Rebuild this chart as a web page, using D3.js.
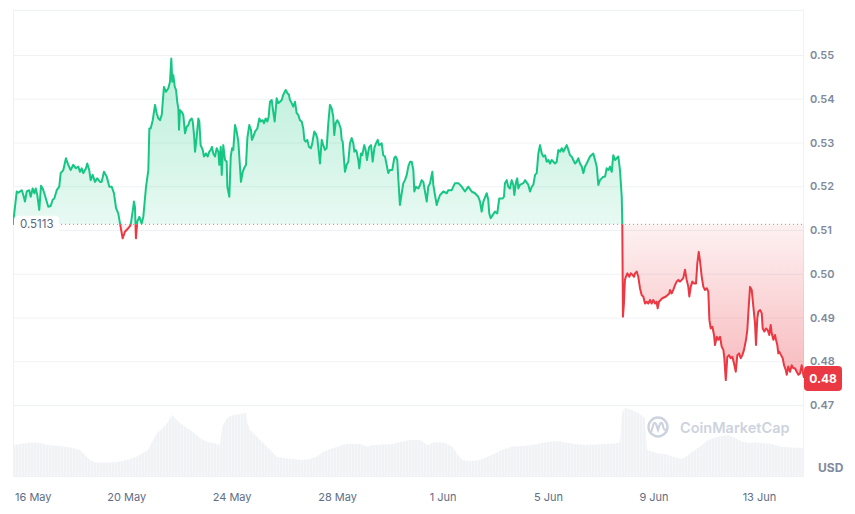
<!DOCTYPE html>
<html><head><meta charset="utf-8">
<script src="https://cdn.jsdelivr.net/npm/d3@7"></script>
<style>body{margin:0;background:#fff;} svg{display:block;font-family:Inter,"Noto Sans",sans-serif;}</style>
</head><body><svg id="chart" width="855" height="514"></svg>
<script>
// ---------- DATA ----------
const startTime = new Date(2024, 4, 15, 17, 0);   // first sample
const spanHours = 720;
const openPrice = 0.5113;
const lastPriceLabel = "0.48";
const priceTicks = [0.47, 0.48, 0.49, 0.50, 0.51, 0.52, 0.53, 0.54, 0.55];
const dateTicks = ["2024-05-16","2024-05-20","2024-05-24","2024-05-28","2024-06-01","2024-06-05","2024-06-09","2024-06-13"];
const dateLabels = ["16 May","20 May","24 May","28 May","1 Jun","5 Jun","9 Jun","13 Jun"];

// hours since startTime
const hours = [
0,3.4,4.8,7.9,9.4,10.9,12.5,14.8,16.1,17.9,
19.4,20.7,22.1,23.9,25.5,27.0,28.5,30.7,32.1,34.3,
36.1,37.6,39.8,42.1,43.4,45.8,48.2,50.3,52.5,54.9,
57.3,59.4,61.0,62.5,64.0,66.4,67.6,69.4,70.7,72.5,
74.6,76.7,79.2,80.7,82.8,85.3,87.7,89.8,91.9,93.8,
95.8,97.4,99.8,101.9,104.9,107.1,108.9,110.1,111.0,111.9,
113.1,115.0,117.1,118.6,121.1,123.2,124.1,125.3,127.2,129.3,
130.8,132.3,133.8,135.4,137.4,139.3,141.4,142.9,144.1,145.0,
145.9,147.2,148.4,149.5,150.5,151.1,152.0,153.6,155.0,156.6,
158.1,159.6,161.1,162.7,163.6,164.8,165.7,167.2,168.7,169.6,
170.8,172.7,173.8,175.7,177.2,178.7,180.0,181.1,182.3,183.9,
185.4,186.9,187.8,189.1,190.0,191.4,193.0,194.5,195.1,196.9,
198.2,199.4,200.5,202.1,203.6,205.1,206.6,207.5,209.1,210.3,
212.1,213.3,215.1,216.6,217.5,218.7,220.3,222.4,224.2,225.5,
227.3,228.5,230.0,231.5,232.7,233.9,235.5,236.9,238.2,240.0,
241.5,243.0,244.6,246.0,248.2,250.0,251.2,252.1,253.7,255.1,
256.7,258.2,259.7,261.2,262.8,264.2,265.2,266.4,267.9,269.4,
271.2,272.4,274.2,275.5,277.0,277.9,279.4,281.0,282.4,284.0,
285.5,287.0,288.5,290.1,291.5,292.4,293.7,295.2,296.7,298.3,
299.2,300.1,301.0,302.2,303.7,305.2,306.7,308.3,309.8,310.7,
311.9,312.8,314.3,315.2,316.7,317.9,319.7,321.0,322.2,323.4,
324.3,325.9,327.4,328.9,330.4,332.0,333.1,335.6,337.0,338.6,
340.1,341.6,343.1,345.2,347.0,348.3,349.8,350.7,352.2,353.8,
355.3,356.8,358.4,359.8,361.4,362.9,364.4,365.3,366.8,368.9,
370.5,372.0,373.5,375.0,376.6,378.0,379.6,381.7,382.6,384.1,
385.7,387.1,388.7,391.7,394.8,396.2,399.3,400.8,402.3,405.4,
408.4,411.4,414.4,417.5,420.5,423.5,425.1,426.6,428.1,431.2,
432.6,433.5,434.8,436.6,438.7,440.8,442.6,445.7,446.9,447.8,
449.4,450.8,452.4,453.9,455.4,456.3,457.9,459.0,460.0,461.5,
464.5,466.1,469.1,470.6,472.2,473.6,475.2,476.7,478.2,479.7,
481.3,482.7,484.3,485.8,487.3,488.8,490.3,493.4,494.9,496.4,
497.9,499.5,500.9,502.5,504.0,505.5,507.0,508.5,510.0,511.6,
513.1,514.6,516.1,517.7,519.1,520.7,522.2,523.7,525.2,528.2,
529.8,531.3,532.8,534.3,537.3,538.9,540.4,541.9,543.4,545.0,
546.4,548.0,549.5,551.0,552.5,554.1,554.6,555.2,556.1,557.0,
557.9,559.2,561.0,562.3,564.1,565.3,566.2,567.7,569.2,570.7,
572.3,573.7,575.3,576.8,578.3,579.8,581.3,582.8,584.4,585.9,
586.8,588.0,591.0,594.4,597.4,598.0,599.6,601.0,602.6,604.1,
605.6,607.1,608.7,610.1,611.7,613.2,614.7,615.6,616.9,618.4,
619.9,621.7,622.9,624.2,625.4,626.9,628.4,629.9,631.5,632.9,
633.9,635.1,636.6,638.1,639.0,640.6,642.0,643.6,645.1,646.6,
647.5,648.8,650.2,651.8,653.3,654.8,656.3,657.9,659.3,660.9,
662.4,663.9,665.4,667.2,668.4,669.7,670.9,672.4,673.9,675.4,
676.3,677.5,678.4,680.0,681.5,682.4,683.9,685.4,687.0,688.4,
689.7,690.6,692.1,693.6,694.5,695.7,696.6,697.5,699.1,700.6,
701.8,703.4,704.3,705.7,707.3,708.8,710.3,711.8,713.4,714.9,
716.4,717.9,719.4,720.0];

const prices = [
.5113,.5188,.5185,.5191,.5180,.5165,.5188,.5191,.5176,.5195,
.5184,.5195,.5180,.5146,.5201,.5195,.5184,.5165,.5153,.5155,
.5169,.5172,.5191,.5199,.5230,.5237,.5264,.5249,.5237,.5249,
.5241,.5245,.5233,.5241,.5230,.5241,.5252,.5237,.5214,.5226,
.5210,.5218,.5210,.5210,.5233,.5222,.5199,.5199,.5184,.5150,
.5138,.5115,.5081,.5096,.5104,.5111,.5142,.5165,.5153,.5081,
.5119,.5130,.5115,.5130,.5199,.5237,.5332,.5332,.5351,.5386,
.5367,.5355,.5351,.5363,.5427,.5416,.5424,.5439,.5492,.5439,
.5454,.5428,.5420,.5393,.5378,.5329,.5374,.5370,.5363,.5321,
.5336,.5340,.5351,.5355,.5348,.5317,.5279,.5313,.5355,.5348,
.5294,.5283,.5268,.5275,.5268,.5279,.5283,.5290,.5275,.5268,
.5287,.5279,.5249,.5290,.5226,.5294,.5260,.5256,.5199,.5176,
.5268,.5287,.5283,.5340,.5325,.5302,.5245,.5210,.5233,.5241,
.5249,.5310,.5340,.5329,.5306,.5313,.5325,.5332,.5355,.5348,
.5351,.5344,.5355,.5348,.5359,.5393,.5397,.5370,.5348,.5401,
.5390,.5393,.5397,.5409,.5420,.5412,.5409,.5397,.5390,.5382,
.5393,.5367,.5363,.5351,.5348,.5332,.5306,.5302,.5306,.5290,
.5287,.5298,.5325,.5321,.5310,.5290,.5252,.5306,.5294,.5283,
.5287,.5344,.5386,.5378,.5359,.5317,.5344,.5351,.5344,.5332,
.5306,.5302,.5271,.5233,.5249,.5256,.5298,.5310,.5298,.5279,
.5283,.5279,.5260,.5241,.5275,.5271,.5294,.5283,.5260,.5279,
.5290,.5294,.5256,.5287,.5298,.5306,.5294,.5298,.5271,.5268,
.5249,.5230,.5237,.5237,.5264,.5268,.5260,.5218,.5157,.5184,
.5207,.5214,.5226,.5245,.5256,.5256,.5237,.5188,.5199,.5195,
.5203,.5214,.5210,.5188,.5165,.5199,.5207,.5233,.5203,.5180,
.5157,.5169,.5180,.5188,.5184,.5191,.5191,.5199,.5207,.5207,
.5199,.5188,.5199,.5188,.5184,.5176,.5165,.5142,.5165,.5184,
.5169,.5138,.5127,.5134,.5142,.5138,.5172,.5172,.5176,.5207,
.5214,.5199,.5195,.5214,.5203,.5180,.5210,.5218,.5195,.5203,
.5207,.5214,.5203,.5188,.5199,.5203,.5226,.5230,.5275,.5294,
.5275,.5268,.5271,.5256,.5260,.5252,.5260,.5252,.5256,.5283,
.5279,.5287,.5279,.5287,.5294,.5283,.5271,.5268,.5260,.5252,
.5256,.5264,.5252,.5245,.5230,.5245,.5252,.5260,.5268,.5275,
.5260,.5245,.5203,.5214,.5222,.5222,.5241,.5237,.5245,.5233,
.5271,.5260,.5264,.5268,.5237,.5176,.5115,.4902,.4932,.4986,
.4993,.5001,.4993,.5001,.4997,.4993,.5001,.5005,.4993,.4967,
.4951,.4948,.4932,.4936,.4932,.4940,.4932,.4940,.4932,.4936,
.4921,.4936,.4944,.4948,.4955,.4963,.4955,.4963,.4974,.4982,
.4986,.4982,.4986,.4990,.5009,.4986,.4970,.4948,.4970,.4982,
.4978,.4978,.5024,.5050,.5028,.4993,.4970,.4963,.4967,.4959,
.4894,.4875,.4879,.4860,.4837,.4856,.4849,.4856,.4833,.4826,
.4807,.4757,.4810,.4814,.4807,.4810,.4795,.4776,.4814,.4818,
.4807,.4814,.4826,.4849,.4871,.4925,.4970,.4963,.4925,.4887,
.4837,.4898,.4913,.4917,.4910,.4875,.4868,.4875,.4871,.4860,
.4883,.4864,.4849,.4860,.4849,.4837,.4818,.4822,.4814,.4807,
.4791,.4780,.4769,.4788,.4776,.4791,.4784,.4784,.4776,.4769,
.4772,.4791,.4769,.4762];

// volume (million USD), hours since startTime
const volHours = [
0,6.4,12.7,18.2,24.6,30.9,36.4,42.8,49.2,54.6,
61,65.5,70.1,74.6,79.2,88.3,94.7,100.1,106.5,112.9,
118.3,122.9,126.5,131.1,136.5,141.1,144.7,147.4,152,158.4,
163.8,170.2,176.6,182.1,188.5,190.3,194.8,200.3,206.7,212.1,
213.5,215.8,222.2,227.7,234.1,240.4,245.9,255,264.1,270.4,
276.8,282.2,288.6,295,300.4,306.8,315.9,322.3,327.7,336.8,
345.9,352.3,361.4,370.5,376.9,384.2,393.3,399.6,405.1,408.7,
414.2,423.3,429.6,436,445.1,454.2,463.3,472.4,481.5,490.6,
496,502.4,511.6,520.7,529.8,538.9,548,552.6,554.4,557.1,
563.5,569,575.3,577.1,581.7,587.2,593.5,599.9,609,614.5,
620.8,627.2,632.7,639,645.4,650.9,657.3,663.6,669.1,675.5,
681.8,690.9,700,709.1,720];
const volumes = [
15.5,16,16.5,16.7,16.5,15.5,15.2,15,14.5,14,
13,10.5,8,6.9,6.7,6.7,7,7.5,8.5,9.7,
11.5,13,17,21.5,24,27,30.5,29,26.5,24,
22,19,17,16.5,15.5,24.5,29,30.5,31,31.5,
26.5,23,19.5,16.5,13,9.5,9,8.5,8,8.5,
9.7,12,13.5,14.5,15.8,16,16,14.7,15.5,15.8,
16,17,18,18,15.5,17,16.5,14.7,10.5,8,
7.5,7.7,9,10.5,13,14.7,15,15.5,16.5,17.2,
17.5,16.7,16,15.5,15.8,16,16.3,17,31.5,34,
33,31.5,29,13,12.2,11.3,11,9.7,8.5,10.5,
13,15.5,18,19.3,20,20.5,19,17.2,16.5,16.7,
16.5,16,14.5,14.2,14];

// ---------- LAYOUT ----------
const L = 13, R = 804, T = 10, B = 476;
const GREEN = "#16c784", RED = "#ea3943";
const toDate = h => new Date(+startTime + h * 3600e3);

const svg = d3.select("#chart");
const x = d3.scaleTime().domain([startTime, toDate(spanHours)]).range([L, R]);
const y = d3.scaleLinear().domain([0.47, 0.55]).range([405, 55]);
const yv = d3.scaleLinear().domain([0, 40]).range([B, B - 80]);

const data = d3.range(Math.min(hours.length, prices.length)).map(i => ({t: toDate(hours[i]), p: prices[i]}));
const vdata = d3.range(Math.min(volHours.length, volumes.length)).map(i => ({t: toDate(volHours[i]), v: volumes[i]}));
const yBase = y(openPrice);

const defs = svg.append("defs");
defs.append("clipPath").attr("id", "above").append("rect")
  .attr("x", L).attr("y", 0).attr("width", R - L).attr("height", yBase);
defs.append("clipPath").attr("id", "below").append("rect")
  .attr("x", L).attr("y", yBase).attr("width", R - L).attr("height", B - yBase);
const gG = defs.append("linearGradient").attr("id", "gGreen").attr("gradientUnits", "userSpaceOnUse")
  .attr("x1", 0).attr("x2", 0).attr("y1", 55).attr("y2", yBase);
gG.append("stop").attr("offset", 0).attr("stop-color", GREEN).attr("stop-opacity", 0.3);
gG.append("stop").attr("offset", 1).attr("stop-color", GREEN).attr("stop-opacity", 0.1);
const gR = defs.append("linearGradient").attr("id", "gRed").attr("gradientUnits", "userSpaceOnUse")
  .attr("x1", 0).attr("x2", 0).attr("y1", yBase).attr("y2", 385);
gR.append("stop").attr("offset", 0).attr("stop-color", RED).attr("stop-opacity", 0.07);
gR.append("stop").attr("offset", 1).attr("stop-color", RED).attr("stop-opacity", 0.36);
const pat = defs.append("pattern").attr("id", "vstripe").attr("patternUnits", "userSpaceOnUse")
  .attr("width", 3).attr("height", 10);
pat.append("rect").attr("width", 3).attr("height", 10).attr("fill", "#f0f2f5");
pat.append("rect").attr("width", 1).attr("height", 10).attr("fill", "#f6f7f9");

// frame
svg.append("rect").attr("x", L + 0.5).attr("y", T + 0.5).attr("width", R - L - 1).attr("height", B - T)
  .attr("fill", "none").attr("stroke", "#eff2f5");

// grid + right axis
const yAxis = svg.append("g").attr("transform", `translate(${R},0)`)
  .call(d3.axisRight(y).tickValues(priceTicks).tickFormat(d3.format(".2f"))
    .tickSize(-(R - L)).tickPadding(6));
yAxis.select(".domain").remove();
yAxis.selectAll(".tick line").attr("stroke", "#eff2f5");
yAxis.selectAll(".tick text").attr("fill", "#808a9d").attr("font-size", 11).attr("font-weight", 600)
  .attr("font-family", "Inter, sans-serif");

// volume
svg.append("path").datum(vdata)
  .attr("d", d3.area().x(d => x(d.t)).y0(B).y1(d => yv(d.v)))
  .attr("fill", "url(#vstripe)");

// watermark
const wm = svg.append("g");
wm.append("circle").attr("cx", 658).attr("cy", 427).attr("r", 9.5).attr("fill", "none")
  .attr("stroke", "#cdd3de").attr("stroke-width", 2.4);
wm.append("path").attr("d", "M651.5,431 L653.5,424 Q654.5,421.5 656,424 L658,430 L660,424 Q661.5,421.5 662.5,424 L663.5,428 Q664.5,431 667,429")
  .attr("fill", "none").attr("stroke", "#cdd3de").attr("stroke-width", 2.2).attr("stroke-linecap", "round");
wm.append("text").attr("x", 680).attr("y", 432.5).text("CoinMarketCap")
  .attr("fill", "#cdd3de").attr("font-size", 14.5).attr("font-weight", 600);

// price fills
const area = d3.area().x(d => x(d.t)).y0(yBase).y1(d => y(d.p));
svg.append("path").datum(data).attr("d", area).attr("fill", "url(#gGreen)").attr("clip-path", "url(#above)");
svg.append("path").datum(data).attr("d", area).attr("fill", "url(#gRed)").attr("clip-path", "url(#below)");

// dotted open line
svg.append("line").attr("x1", L).attr("x2", R).attr("y1", yBase).attr("y2", yBase)
  .attr("stroke", "#8b93a7").attr("stroke-width", 1).attr("stroke-dasharray", "1,3");

// price line
const line = d3.line().x(d => x(d.t)).y(d => y(d.p));
svg.append("path").datum(data).attr("d", line).attr("fill", "none").attr("stroke", GREEN)
  .attr("stroke-width", 2).attr("stroke-linejoin", "round").attr("clip-path", "url(#above)");
svg.append("path").datum(data).attr("d", line).attr("fill", "none").attr("stroke", RED)
  .attr("stroke-width", 2).attr("stroke-linejoin", "round").attr("clip-path", "url(#below)");

// open price label
svg.append("rect").attr("x", 14).attr("y", yBase - 8.5).attr("width", 45).attr("height", 18).attr("rx", 4)
  .attr("fill", "#fff");
svg.append("text").attr("x", 20).attr("y", yBase).attr("dy", "0.35em").text(openPrice.toFixed(4))
  .attr("fill", "#58667e").attr("font-size", 11.5);

// current price tag
const lastY = y(prices[prices.length - 1]);
svg.append("rect").attr("x", 804).attr("y", lastY - 12).attr("width", 38).attr("height", 25).attr("rx", 4)
  .attr("fill", RED);
svg.append("text").attr("x", 823).attr("y", lastY + 0.5).attr("dy", "0.35em").attr("text-anchor", "middle")
  .text(lastPriceLabel).attr("fill", "#fff").attr("font-size", 12).attr("font-weight", 700);

// USD
svg.append("text").attr("x", 818).attr("y", 472).text("USD")
  .attr("fill", "#808a9d").attr("font-size", 12).attr("font-weight", 700);

// bottom axis
const xAxis = svg.append("g").attr("transform", `translate(0,${B})`)
  .call(d3.axisBottom(x).tickValues(dateTicks.map(s => { const [a,b,c] = s.split("-").map(Number); return new Date(a, b - 1, c); }))
    .tickFormat((d, i) => dateLabels[i]).tickSize(0).tickPadding(17));
xAxis.select(".domain").remove();
xAxis.selectAll(".tick text").attr("fill", "#616e85").attr("font-size", 11).attr("font-family", "Inter, sans-serif")
  .each(function() {
    const t = d3.select(this);
    const w = this.getComputedTextLength();
    const tr = this.parentNode.getAttribute("transform");
    const cx = +tr.match(/translate\(([-\d.]+)/)[1];
    if (cx - w / 2 < L + 2) t.attr("x", (L + 2 + w / 2) - cx);
  });
</script></body></html>
